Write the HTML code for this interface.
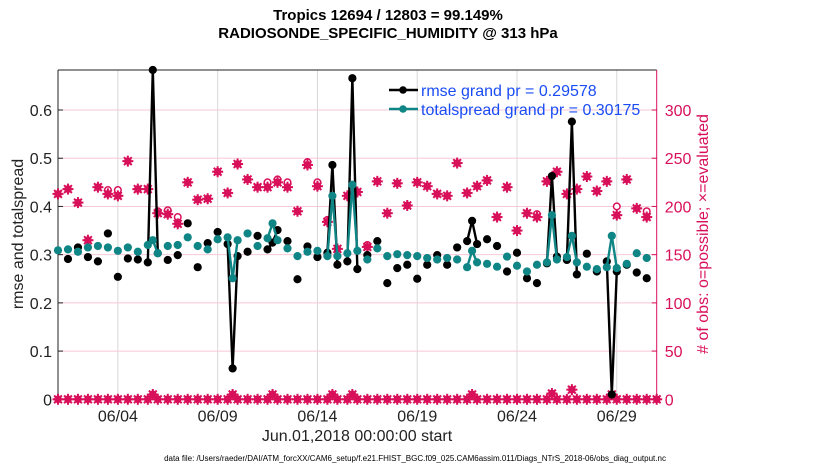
<!DOCTYPE html>
<html><head><meta charset="utf-8"><style>
body{margin:0;background:#fff;}
svg text{font-family:"Liberation Sans",Arial,sans-serif;}
</style></head><body>
<svg id="chart" width="830" height="470" xmlns="http://www.w3.org/2000/svg"></svg>
<script>
const times=[0,0.5,1,1.5,2,2.5,3,3.5,4,4.5,4.75,5,5.5,6,6.5,7,7.5,8,8.5,8.75,9,9.5,10,10.5,10.75,11,11.5,12,12.5,13,13.5,13.75,14,14.5,14.75,15,15.5,16,16.5,17,17.5,18,18.5,19,19.5,20,20.5,20.75,21,21.5,22,22.5,23,23.5,24,24.5,24.75,25,25.5,25.75,26,26.5,27,27.5,27.75,28,28.5,29,29.5];
const rmse=[null,0.291,0.315,0.295,0.286,0.344,0.254,0.292,0.290,0.284,0.683,0.303,0.289,0.299,0.365,0.274,0.324,0.347,0.322,0.064,0.297,0.306,0.339,0.311,0.325,0.351,0.328,0.249,0.317,0.295,0.304,0.486,0.279,0.286,0.666,0.270,0.299,0.328,0.241,0.272,0.279,0.250,0.279,0.299,0.279,0.315,0.328,0.370,0.322,0.332,0.318,0.265,0.304,0.251,0.241,0.282,0.463,0.296,0.289,0.576,0.259,0.302,0.265,0.286,0.010,0.265,0.279,0.263,0.251];
const spread=[0.309,0.311,0.306,0.315,0.318,0.315,0.308,0.315,0.306,0.320,0.330,0.303,0.318,0.320,0.336,0.318,0.311,0.332,0.336,0.251,0.330,0.344,0.318,0.334,0.365,0.330,0.313,0.297,0.306,0.308,0.297,0.422,0.297,0.303,0.445,0.308,0.290,0.313,0.297,0.301,0.299,0.297,0.293,0.290,0.293,0.290,0.274,0.308,0.284,0.281,0.275,0.296,0.277,0.265,0.279,0.284,0.382,0.290,0.295,0.339,0.284,0.275,0.270,0.274,0.339,0.272,0.281,0.303,0.293];
const evaluated=[213,218,204,165,220,213,211,247,218,218,5,193,192,182,225,207,208,236,214,5,244,228,220,220,5,225,220,195,243,221,184,5,156,211,5,215,158,226,193,224,201,225,221,213,211,245,214,5,221,227,189,220,175,193,189,226,6,236,213,10,218,231,216,226,5,191,228,198,189];
const possible=[213,218,204,165,220,217,217,247,218,218,5,195,196,189,225,207,208,236,214,5,244,228,220,225,5,228,225,195,246,225,186,5,156,211,5,215,160,226,193,224,201,225,221,213,211,245,214,5,221,227,189,220,175,193,192,226,6,236,213,10,218,231,216,226,5,200,228,198,195];
const zeroTimes=[0,0.5,1,1.5,2,2.5,3,3.5,4,4.5,5,5.5,6,6.5,7,7.5,8,8.5,9,9.5,10,10.5,11,11.5,12,12.5,13,13.5,14,14.5,15,15.5,16,16.5,17,17.5,18,18.5,19,19.5,20,20.5,21,21.5,22,22.5,23,23.5,24,24.5,25,25.5,26,26.5,27,27.5,28,28.5,29,29.5,30];
const xTickDays=[3,8,13,18,23,28];
const xTickLabels=["06/04","06/09","06/14","06/19","06/24","06/29"];
const yTicks=[0,0.1,0.2,0.3,0.4,0.5,0.6];
const y2Ticks=[0,50,100,150,200,250,300];

const L=58,R=656.7,T=70,B=399.3;
const X=d=>L+(d/30)*(R-L);
const Y=v=>B-(v/0.683)*(B-T);
const Y2=v=>B-(v/341.5)*(B-T);
const svg=document.getElementById('chart');
const NS="http://www.w3.org/2000/svg";
function mk(tag,attrs,parent){const e=document.createElementNS(NS,tag);for(const k in attrs)e.setAttribute(k,attrs[k]);(parent||svg).appendChild(e);return e;}
function txt(s,attrs,parent){const e=mk('text',attrs,parent);e.textContent=s;return e;}
const RED="#d8105a",TEAL="#0f8585";

const grid=mk('g',{});
xTickDays.forEach(d=>{const l=mk('line',{x1:X(d),x2:X(d),y1:T,y2:B,stroke:'#d8d8d8','stroke-width':1},grid);});
y2Ticks.slice(1).forEach(v=>{const l=mk('line',{x1:L,x2:R,y1:Y2(v),y2:Y2(v),stroke:'#f6c8d8','stroke-width':1},grid);});

const ax=mk('g',{});
mk('line',{x1:L,x2:L,y1:T,y2:B,stroke:'#222','stroke-width':1},ax);
mk('line',{x1:L,x2:R,y1:T,y2:T,stroke:'#222','stroke-width':1},ax);
mk('line',{x1:L,x2:R,y1:B,y2:B,stroke:'#222','stroke-width':1},ax);
mk('line',{x1:R,x2:R,y1:T,y2:B,stroke:RED,'stroke-width':1},ax);
yTicks.forEach(v=>{mk('line',{x1:L,x2:L+5,y1:Y(v),y2:Y(v),stroke:'#222'},ax);
 const t=txt(String(v),{x:L-6,y:Y(v)+6,'text-anchor':'end','font-size':16,fill:'#222'},ax);});
y2Ticks.forEach(v=>{mk('line',{x1:R-5,x2:R,y1:Y2(v),y2:Y2(v),stroke:RED},ax);
 const t=txt(String(v),{x:R+8,y:Y2(v)+6,'font-size':16,fill:RED},ax);});
xTickDays.forEach((d,i)=>{mk('line',{x1:X(d),x2:X(d),y1:B,y2:B-5,stroke:'#222'},ax);
 const t=txt(xTickLabels[i],{x:X(d),y:B+22,'text-anchor':'middle','font-size':16,fill:'#222'},ax);});

function star(cx,cy,g){
 mk('circle',{cx:cx,cy:cy,r:3.8,fill:RED},g);
 [[0,5.5],[5.5,0],[3.9,3.9],[3.9,-3.9]].forEach(([a,b])=>mk('line',{x1:cx-a,y1:cy-b,x2:cx+a,y2:cy+b,stroke:RED,'stroke-width':2},g));
}
const obs=mk('g',{});
zeroTimes.forEach(t=>star(X(t),Y2(0),obs));
times.forEach((t,i)=>{if(possible[i]!==evaluated[i]) mk('circle',{cx:X(t),cy:Y2(possible[i]),r:3.3,fill:'#fff',stroke:RED,'stroke-width':1.5},obs); star(X(t),Y2(evaluated[i]),obs);});

function series(vals,color,name){
 const g=mk('g',{});
 for(let i=1;i<times.length;i++){ if(vals[i]==null||vals[i-1]==null) continue; if(times[i]-times[i-1]>0.3) continue;
  mk('line',{x1:X(times[i-1]),y1:Y(vals[i-1]),x2:X(times[i]),y2:Y(vals[i]),stroke:color,'stroke-width':2.4},g);}
 times.forEach((t,i)=>{if(vals[i]==null)return;const c=mk('circle',{cx:X(t),cy:Y(vals[i]),r:4.1,fill:color},g);});
}
series(rmse,'#000','rmse-series');
series(spread,TEAL,'totalspread-series');

const lg=mk('g',{});
[[90,'#000','rmse grand pr = 0.29578'],[109,TEAL,'totalspread grand pr = 0.30175']].forEach(([y,c,s])=>{
 mk('line',{x1:389,x2:418,y1:y,y2:y,stroke:c,'stroke-width':2.4},lg);
 mk('circle',{cx:403,cy:y,r:3.8,fill:c},lg);
 const t=txt(s,{x:421,y:y+6,'font-size':16,fill:'#1a4cf5'},lg);
});

let t;
t=txt('Tropics 12694 / 12803 = 99.149%',{x:388,y:20,'text-anchor':'middle','font-size':15,'font-weight':'bold',fill:'#000'});
t=txt('RADIOSONDE_SPECIFIC_HUMIDITY @ 313 hPa',{x:388,y:38,'text-anchor':'middle','font-size':15,'font-weight':'bold',fill:'#000'});
t=txt('rmse and totalspread',{x:0,y:0,'text-anchor':'middle','font-size':16,fill:'#222',transform:'translate(23,234) rotate(-90)'});
t=txt('# of obs: o=possible; \u00d7=evaluated',{x:0,y:0,'text-anchor':'middle','font-size':16,fill:RED,transform:'translate(708,234) rotate(-90)'});
t=txt('Jun.01,2018 00:00:00 start',{x:357,y:441,'text-anchor':'middle','font-size':16,fill:'#222'});
t=txt('data file: /Users/raeder/DAI/ATM_forcXX/CAM6_setup/f.e21.FHIST_BGC.f09_025.CAM6assim.011/Diags_NTrS_2018-06/obs_diag_output.nc',{x:415,y:461,'text-anchor':'middle','font-size':8,fill:'#000'});
</script>
</body></html>
